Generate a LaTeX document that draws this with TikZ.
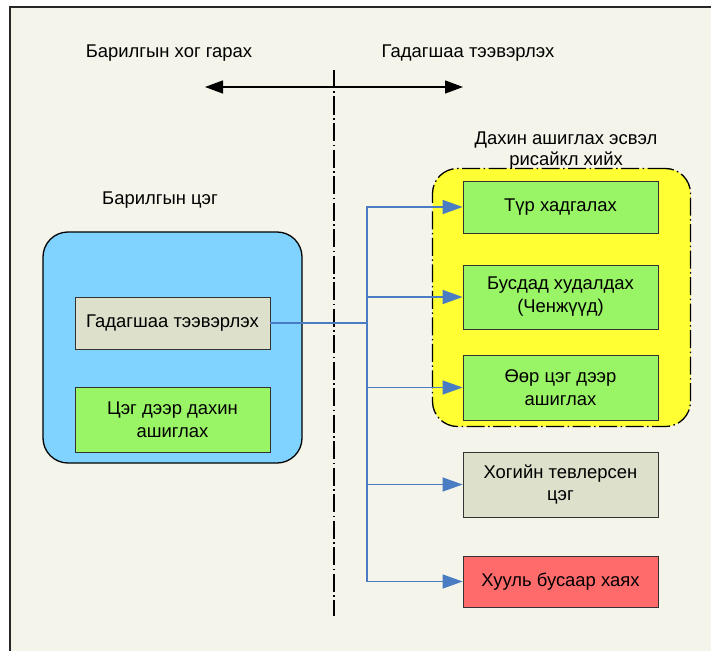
\documentclass[tikz,border=0pt]{standalone}
\usepackage{fontspec}
\setmainfont{Liberation Sans}
\usetikzlibrary{arrows.meta}
\definecolor{paper}{HTML}{F4F4EA}
\definecolor{siteblue}{HTML}{80D2FF}
\definecolor{greybox}{HTML}{DDE0CB}
\definecolor{greenbox}{HTML}{99F566}
\definecolor{yellowbox}{HTML}{FFFF33}
\definecolor{redbox}{HTML}{FF6B6B}
\definecolor{flow}{HTML}{4A7CC4}
\tikzset{
  every node/.style={font=\fontsize{18.5}{22}\selectfont, text=black},
  card/.style={draw=black!80, line width=0.8bp, minimum width=195bp, align=center, inner sep=0pt},
  lbl/.style={align=center, inner sep=0pt},
  flowline/.style={draw=flow, line width=1.4bp},
  flowarrow/.style={flowline, -{Triangle[length=20bp,width=14bp]}},
  dashdot/.style={dash pattern=on 18bp off 3.5bp on 1.5bp off 3.5bp},
}
\begin{document}
\begin{tikzpicture}[x=1bp,y=-1bp]
  % page and sheet
  \useasboundingbox (0,0) rectangle (711,651);
  \fill[white] (0,0) rectangle (711,651);
  \fill[paper] (10,7) rectangle (711,651);
  \draw[black!85, line width=1.8bp] (10,651) -- (10,7) -- (711,7);

  % headings and divider
  \node[lbl] (hleft) at (169,53) {Барилгын хог гарах};
  \node[lbl] (hright) at (468,53) {Гадагшаа тээвэрлэх};
  \coordinate (arrL) at (205,87);
  \coordinate (arrR) at (463,87);
  \draw[black, line width=1.3bp, {Triangle[length=18bp,width=13bp]}-{Triangle[length=18bp,width=13bp]}] (arrL) -- (arrR);
  \coordinate (divT) at (334,70);
  \coordinate (divB) at (334,616);
  \draw[black, line width=1.2bp, dashdot] (divT) -- (divB);

  % construction site
  \node[lbl] (sitelbl) at (160,200) {Барилгын цэг};
  \node[draw=black, line width=1.3bp, fill=siteblue, rounded corners=25bp,
        minimum width=259bp, minimum height=231bp, inner sep=0pt] (site) at (172.5,347.5) {};
  \node[card, fill=greybox, minimum height=52bp] (gad) at (172.5,323) {Гадагшаа тээвэрлэх};
  \node[card, fill=greenbox, minimum height=65bp] (onsite) at (172.5,419.5) {Цэг дээр дахин\\[1bp]ашиглах};

  % reuse / recycle group
  \node[draw=black, line width=1.3bp, dashdot, fill=yellowbox, rounded corners=25bp,
        minimum width=258bp, minimum height=258bp, inner sep=0pt] (reuse) at (561.5,297.5) {};
  \node[lbl] (reuselbl) at (566,151) {Дахин ашиглах эсвэл\\[-1bp]рисайкл хийх};
  \node[card, fill=greenbox, minimum height=52bp] (b1) at (560.5,207) {Түр хадгалах};
  \node[card, fill=greenbox, minimum height=64bp] (b2) at (560.5,297) {Бусдад худалдах\\[1bp](Ченжүүд)};
  \node[card, fill=greenbox, minimum height=65bp] (b3) at (560.5,387.5) {Өөр цэг дээр\\[1bp]ашиглах};
  \node[card, fill=greybox, minimum height=65bp] (b4) at (560.5,484.5) {Хогийн тевлерсен\\[1bp]цэг};
  \node[card, fill=redbox, minimum height=51bp] (b5) at (560.5,581.5) {Хууль бусаар хаях};

  % connectors
  \coordinate (trunk) at (367,323);
  \draw[flowline, line width=2.6bp] (gad.east) -- (trunk);
  \foreach \t in {b1,b2,b3,b4,b5}
    \draw[flowarrow] (trunk) |- (\t.west);
\end{tikzpicture}
\end{document}
